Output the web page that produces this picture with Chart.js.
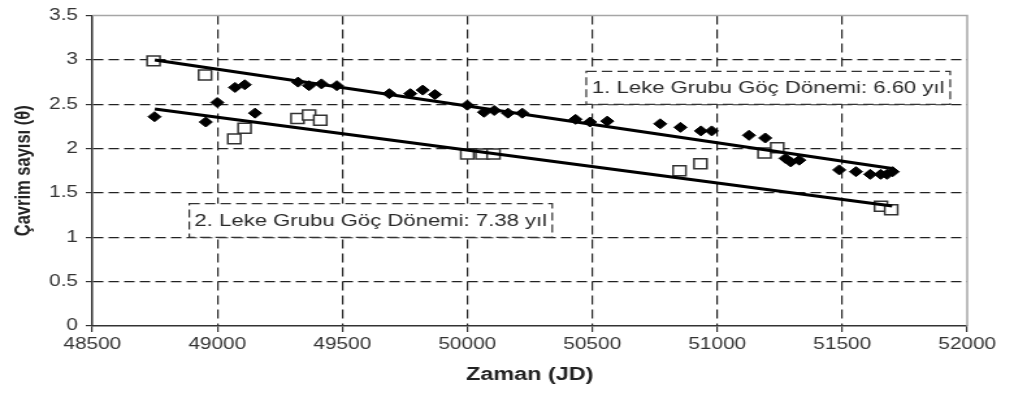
<!DOCTYPE html>
<html>
<head>
<meta charset="utf-8">
<script src="https://cdn.jsdelivr.net/npm/chart.js@4"></script>
<style>
body { margin: 0; background: #fff; }
#wrap { width: 786px; height: 405px; transform: scaleX(1.3); transform-origin: 0 0; }
</style>
</head>
<body>
<div id="wrap"><canvas id="myChart" width="786" height="405"></canvas></div>
<script>
// 1. leke grubu (dolu karolar)
const grup1X = [48749, 48954, 49000, 49071, 49110, 49151, 49323, 49367, 49417, 49478,
  49688, 49772, 49822, 49871, 50000, 50067, 50108, 50163, 50220, 50433, 50491, 50560,
  50772, 50853, 50935, 50978, 51127, 51192, 51273, 51294, 51328, 51488, 51555, 51612,
  51654, 51679, 51702];
const grup1Y = [2.36, 2.30, 2.52, 2.69, 2.72, 2.40, 2.75, 2.71, 2.73, 2.71,
  2.62, 2.62, 2.66, 2.61, 2.49, 2.41, 2.43, 2.40, 2.40, 2.33, 2.30, 2.31,
  2.28, 2.24, 2.20, 2.20, 2.15, 2.12, 1.89, 1.85, 1.87, 1.76, 1.74, 1.71,
  1.71, 1.71, 1.74];
// 2. leke grubu (bos kareler)
const grup2X = [48745, 48951, 49068, 49109, 49321, 49367, 49412, 50000, 50060, 50105,
  50849, 50933, 51189, 51240, 51655, 51696];
const grup2Y = [2.99, 2.83, 2.11, 2.23, 2.34, 2.38, 2.32, 1.94, 1.94, 1.94,
  1.75, 1.83, 1.95, 2.01, 1.35, 1.31];
// dogrusal uyum cizgileri
const cizgi1X = [48750, 51700];
const cizgi1Y = [3.00, 1.776];
const cizgi2X = [48750, 51700];
const cizgi2Y = [2.447, 1.353];

const kutuYazilari = ["1. Leke Grubu Göç Dönemi: 6.60 yıl", "2. Leke Grubu Göç Dönemi: 7.38 yıl"];
const xTicks = [48500, 49000, 49500, 50000, 50500, 51000, 51500, 52000];

const noktalar = (xs, ys) => xs.map((x, i) => ({ x: x, y: ys[i] }));

const ctx = document.querySelector('#myChart');
const yazi = "'Liberation Sans', Arial, sans-serif";

const kutular = [
  { x1: 50476, x2: 51932, y1: 2.872, y2: 2.50, text: kutuYazilari[0] },
  { x1: 48888, x2: 50340, y1: 1.38, y2: 1.00, text: kutuYazilari[1] }
];

const cerceve = {
  id: 'cerceve',
  beforeDatasetsDraw(chart) {
    const { ctx, chartArea: a, scales } = chart;
    ctx.save();
    ctx.strokeStyle = '#a6a6a6';
    ctx.lineWidth = 1.5;
    ctx.beginPath();
    ctx.moveTo(a.left, a.top);
    ctx.lineTo(a.right, a.top);
    ctx.lineTo(a.right, a.bottom);
    ctx.stroke();

    kutular.forEach(k => {
      const x1 = scales.x.getPixelForValue(k.x1);
      const x2 = scales.x.getPixelForValue(k.x2);
      const y1 = scales.y.getPixelForValue(k.y1);
      const y2 = scales.y.getPixelForValue(k.y2);
      ctx.fillStyle = '#fff';
      ctx.fillRect(x1, y1, x2 - x1, y2 - y1);
      ctx.strokeStyle = '#333';
      ctx.lineWidth = 1.2;
      ctx.setLineDash([8, 4]);
      ctx.strokeRect(x1, y1, x2 - x1, y2 - y1);
      ctx.setLineDash([]);
      ctx.fillStyle = '#2a2a2a';
      ctx.font = "17px " + yazi;
      ctx.textAlign = 'center';
      ctx.textBaseline = 'middle';
      ctx.fillText(k.text, (x1 + x2) / 2, (y1 + y2) / 2 + 1);
    });
    ctx.restore();
  }
};

new Chart(ctx, {
  type: 'scatter',
  data: {
    datasets: [
      {
        data: noktalar(cizgi1X, cizgi1Y),
        showLine: true,
        borderColor: '#000',
        borderWidth: 3,
        pointRadius: 0
      },
      {
        data: noktalar(cizgi2X, cizgi2Y),
        showLine: true,
        borderColor: '#000',
        borderWidth: 3,
        pointRadius: 0
      },
      {
        data: noktalar(grup1X, grup1Y),
        pointStyle: 'rectRot',
        pointRadius: 5,
        backgroundColor: '#000',
        borderColor: '#000',
        borderWidth: 1
      },
      {
        data: noktalar(grup2X, grup2Y),
        pointStyle: 'rect',
        pointRadius: 7,
        backgroundColor: '#fff',
        borderColor: '#333',
        borderWidth: 1.5
      }
    ]
  },
  options: {
    responsive: false,
    animation: false,
    layout: { padding: { top: 14, right: 42, left: 0, bottom: 0 } },
    plugins: { legend: { display: false }, tooltip: { enabled: false } },
    scales: {
      x: {
        type: 'linear',
        min: 48500,
        max: 52000,
        afterFit: s => { s.height = 79; },
        afterBuildTicks: s => { s.ticks = xTicks.map(v => ({ value: v })); },
        ticks: {
          color: '#333',
          font: { size: 16, family: yazi },
          padding: 3,
          maxRotation: 0,
          callback: v => String(v)
        },
        grid: {
          color: c => (c.tick.value === 48500 || c.tick.value === 52000) ? 'rgba(0,0,0,0)' : '#222',
          tickBorderDash: [],
          tickColor: '#333',
          tickLength: 6,
          lineWidth: 1.2
        },
        border: { color: '#333', width: 1.5, dash: [9, 5] },
        title: {
          display: true,
          text: 'Zaman (JD)',
          color: '#222',
          font: { size: 18, weight: 'bold', family: yazi },
          padding: { top: 0, bottom: 19 }
        }
      },
      y: {
        min: 0,
        max: 3.5,
        afterFit: s => { s.width = 71; },
        ticks: {
          stepSize: 0.5,
          color: '#333',
          font: { size: 16, family: yazi },
          padding: 6,
          callback: v => String(v)
        },
        grid: {
          color: c => (c.tick.value === 0 || c.tick.value === 3.5) ? 'rgba(0,0,0,0)' : '#222',
          tickBorderDash: [],
          tickColor: '#333',
          tickLength: 5,
          lineWidth: 1.2
        },
        border: { color: '#333', width: 1.5, dash: [8, 4] },
        title: {
          display: true,
          text: 'Çavrim sayısı (θ)',
          color: '#222',
          font: { size: 16.5, weight: 'bold', family: yazi },
          padding: { top: 9, bottom: 0 }
        }
      }
    }
  },
  plugins: [cerceve]
});
</script>
</body>
</html>
